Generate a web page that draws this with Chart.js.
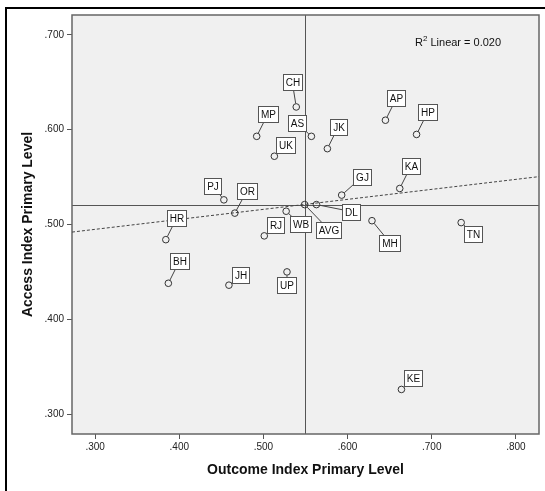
<!DOCTYPE html>
<html>
<head>
<meta charset="utf-8">
<script src="https://cdn.jsdelivr.net/npm/chart.js@4"></script>
<style>
  body { margin: 0; background: #fff; }
  canvas { display: block; }
</style>
</head>
<body>
<canvas id="scatter" width="545" height="491"></canvas>
<script>
// state codes, outcome index (x) and access index (y), primary level
var states  = ["CH", "MP", "AS", "UK", "JK", "AP", "HP", "KA", "GJ", "PJ", "OR",
               "WB", "DL", "HR", "RJ", "MH", "TN", "BH", "JH", "UP", "KE", "AVG"];
var outcome = [0.539, 0.492, 0.557, 0.513, 0.576, 0.645, 0.682, 0.662, 0.593, 0.453, 0.466,
               0.527, 0.563, 0.384, 0.501, 0.629, 0.735, 0.387, 0.459, 0.528, 0.664, 0.549];
var access  = [0.624, 0.593, 0.593, 0.572, 0.580, 0.610, 0.595, 0.538, 0.531, 0.526, 0.512,
               0.514, 0.521, 0.484, 0.488, 0.504, 0.502, 0.438, 0.436, 0.450, 0.326, 0.521];

// averages used for the quadrant lines
var avgOutcome = 0.549;
var avgAccess = 0.521;

// linear fit line, end points
var fitX = [0.2725, 0.8275];
var fitY = [0.492, 0.5505];

var xTicks = [0.3, 0.4, 0.5, 0.6, 0.7, 0.8];
var yTicks = [0.3, 0.4, 0.5, 0.6, 0.7];

// where each label box sits relative to its point (px)
var labelOffset = {
  CH: [-4, -25], MP: [11, -22], AS: [-14, -13], UK: [11, -11], JK: [11, -22],
  AP: [11, -22], HP: [11, -22], KA: [11, -22], GJ: [20, -18], PJ: [-11, -14],
  OR: [12, -22], WB: [14, 13], DL: [35, 7], HR: [11, -22], RJ: [11, -11],
  MH: [18, 22], TN: [12, 11], BH: [11, -22], JH: [12, -10], UP: [0, 13],
  KE: [12, -11], AVG: [24, 25]
};

var pts = outcome.map(function (v, i) { return { x: v, y: access[i] }; });
var fitPts = fitX.map(function (v, i) { return { x: v, y: fitY[i] }; });

function fmt(v) { return v.toFixed(3).replace(/^0/, ""); }

var frame = {
  id: "frame",
  beforeDraw: function (chart) {
    var c = chart.ctx, a = chart.chartArea;
    c.save();
    c.fillStyle = "#000";
    c.fillRect(5, 7, 540, 2);
    c.fillRect(5, 7, 2, 484);
    c.fillStyle = "#f0f0f0";
    c.fillRect(a.left, a.top, a.right - a.left, a.bottom - a.top);
    c.restore();
  },
  beforeDatasetsDraw: function (chart) {
    var c = chart.ctx, a = chart.chartArea;
    var px = Math.round(chart.scales.x.getPixelForValue(avgOutcome)) + 0.5;
    var py = Math.round(chart.scales.y.getPixelForValue(avgAccess)) + 0.5;
    c.save();
    c.strokeStyle = "#555";
    c.lineWidth = 1;
    c.beginPath();
    c.moveTo(px, a.top); c.lineTo(px, a.bottom);
    c.moveTo(a.left, py); c.lineTo(a.right, py);
    c.stroke();
    c.strokeStyle = "#666";
    c.lineWidth = 1.5;
    c.strokeRect(a.left, a.top, a.right - a.left, a.bottom - a.top);
    // R2 text
    c.fillStyle = "#111";
    c.font = "11px Arial, 'Liberation Sans', sans-serif";
    c.textBaseline = "middle";
    var tx = a.right - 124, ty = 43;
    c.fillText("R", tx, ty);
    var w = c.measureText("R").width;
    c.font = "8px Arial, 'Liberation Sans', sans-serif";
    c.fillText("2", tx + w, ty - 4);
    w += c.measureText("2").width;
    c.font = "11px Arial, 'Liberation Sans', sans-serif";
    c.fillText(" Linear = 0.020", tx + w, ty);
    c.restore();
  },
  afterDatasetsDraw: function (chart) {
    var c = chart.ctx;
    var meta = chart.getDatasetMeta(0);
    c.save();
    c.font = "10px Arial, 'Liberation Sans', sans-serif";
    c.textAlign = "center";
    c.textBaseline = "middle";
    states.forEach(function (s, i) {
      var p = meta.data[i];
      var off = labelOffset[s];
      var bx = p.x + off[0], by = p.y + off[1];
      var bw = Math.round(c.measureText(s).width + 5), bh = 16;
      var len = Math.sqrt(off[0] * off[0] + off[1] * off[1]);
      c.strokeStyle = "#444";
      c.lineWidth = 1;
      c.beginPath();
      c.moveTo(p.x + off[0] / len * 3.5, p.y + off[1] / len * 3.5);
      c.lineTo(bx, by);
      c.stroke();
      var l = Math.round(bx - bw / 2) + 0.5, t = Math.round(by - bh / 2) + 0.5;
      c.fillStyle = "#fff";
      c.fillRect(l, t, bw, bh);
      c.strokeStyle = "#555";
      c.strokeRect(l, t, bw, bh);
      c.fillStyle = "#111";
      c.fillText(s, l + bw / 2, t + bh / 2 + 0.5);
    });
    c.restore();
  }
};

new Chart(document.getElementById("scatter"), {
  type: "scatter",
  data: {
    datasets: [{
      data: pts,
      pointRadius: 3.3,
      pointBorderWidth: 1,
      pointBorderColor: "#333",
      pointBackgroundColor: "rgba(0,0,0,0)"
    }, {
      data: fitPts,
      showLine: true,
      pointRadius: 0,
      borderColor: "#444",
      borderWidth: 1,
      borderDash: [3, 2]
    }]
  },
  options: {
    responsive: false,
    animation: false,
    devicePixelRatio: 1,
    layout: { padding: { left: 0, top: 15, right: 6, bottom: 0 } },
    plugins: { legend: { display: false }, tooltip: { enabled: false } },
    scales: {
      x: {
        type: "linear",
        min: 0.2725,
        max: 0.8275,
        afterBuildTicks: function (s) { s.ticks = xTicks.map(function (v) { return { value: v }; }); },
        afterFit: function (s) { s.height = 57; },
        grid: { drawOnChartArea: false, tickLength: 5, tickColor: "#555" },
        border: { display: false },
        ticks: { padding: 2, color: "#222", font: { family: "Arial, 'Liberation Sans', sans-serif", size: 10 },
                 callback: function (v) { return fmt(v); } },
        title: { display: true, text: "Outcome Index Primary Level", color: "#111",
                 padding: { top: 0, bottom: 12 },
                 font: { family: "Arial, 'Liberation Sans', sans-serif", size: 14, weight: "bold" } }
      },
      y: {
        type: "linear",
        min: 0.279,
        max: 0.721,
        afterBuildTicks: function (s) { s.ticks = yTicks.map(function (v) { return { value: v }; }); },
        afterFit: function (s) { s.width = 72; },
        grid: { drawOnChartArea: false, tickLength: 5, tickColor: "#555" },
        border: { display: false },
        ticks: { padding: 3, color: "#222", font: { family: "Arial, 'Liberation Sans', sans-serif", size: 10 },
                 callback: function (v) { return fmt(v); } },
        title: { display: true, text: "Access Index Primary Level", color: "#111",
                 padding: { top: 20, bottom: 0 },
                 font: { family: "Arial, 'Liberation Sans', sans-serif", size: 14, weight: "bold" } }
      }
    }
  },
  plugins: [frame]
});
</script>
</body>
</html>
